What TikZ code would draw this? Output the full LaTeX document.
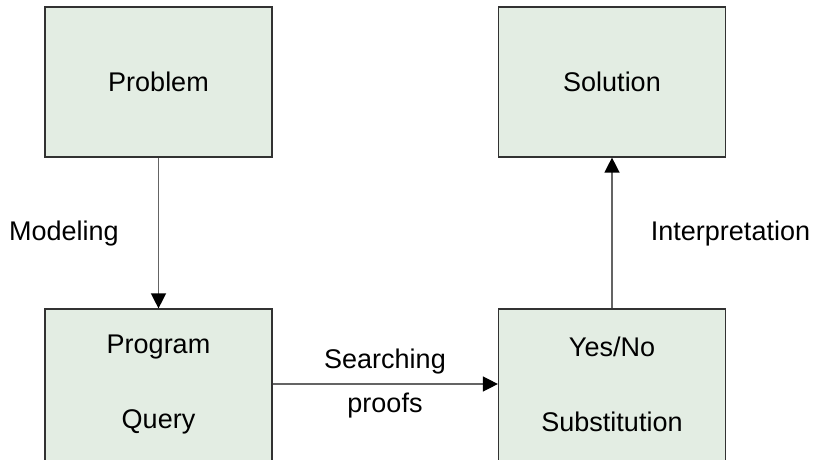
\documentclass[tikz,border=0pt]{standalone}
\usepackage{fontspec}
\setmainfont{Liberation Sans}
\usetikzlibrary{arrows.meta}
\definecolor{boxfill}{RGB}{227,237,227}
\definecolor{boxline}{RGB}{50,50,50}
\definecolor{arrowline}{RGB}{100,100,100}
\begin{document}
\begin{tikzpicture}[x=1pt,y=-1pt,
  stage/.style={draw=boxline,line width=1.2pt,fill=boxfill,minimum width=227pt,minimum height=150pt,inner sep=0pt},
  lowstage/.style={stage,minimum height=156pt},
  lbl/.style={font=\fontsize{27}{32}\selectfont,inner sep=0pt,anchor=center},
  flow/.style={draw=arrowline,line width=1.4pt,-{Triangle[length=15pt,width=15pt,fill=black,color=black]}}]
\useasboundingbox (0,0) rectangle (815,460);
% four stages of the process; the lower pair runs past the bottom edge
\node[stage] (problem) at (158.5,82) {};
\node[stage] (solution) at (612,82) {};
\node[lowstage] (program) at (158.5,387) {};
\node[lowstage] (answer) at (612,387) {};
% texts inside the boxes
\node[lbl] (tproblem) at (158.5,82) {Problem};
\node[lbl] (tsolution) at (612,82) {Solution};
\node[lbl] (tprogram) at (158.5,347) {Program};
\node[lbl] (tquery) at (158.5,422) {Query};
\node[lbl] (tyesno) at (612,347) {Yes/No};
\node[lbl] (tsubst) at (612,422) {Substitution};
% connectors
\coordinate (pexit) at ([yshift=3pt]program.east);
\coordinate (aentry) at ([yshift=3pt]answer.west);
\draw[flow] (problem.south) -- (program.north);
\draw[flow] (pexit) -- (aentry);
\draw[flow] (answer.north) -- (solution.south);
% connector labels
\node[lbl] (modeling) at (64,234) {Modeling};
\node[lbl] (interp) at (730.5,234) {Interpretation};
\node[lbl] (searching) at (385,362) {Searching};
\node[lbl] (proofs) at (385,406) {proofs};
\end{tikzpicture}
\end{document}
